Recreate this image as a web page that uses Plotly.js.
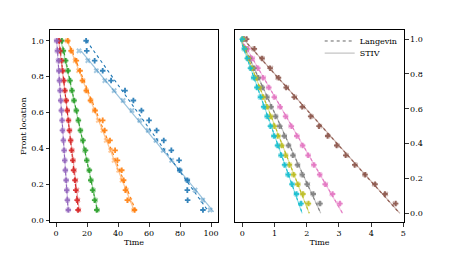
<!DOCTYPE html>
<html>
<head>
<meta charset="utf-8">
<script src="https://cdn.plot.ly/plotly-3.0.1.min.js"></script>
<style>html,body{margin:0;padding:0;background:#fff}#plot{width:449px;height:253px}</style>
</head>
<body>
<div id="plot"></div>
<script>
// Front locations (shared by all series)
const frontLocation = [1.0, 0.944, 0.889, 0.833, 0.778, 0.722, 0.667, 0.611, 0.556, 0.5, 0.444, 0.389, 0.333, 0.278, 0.222, 0.167, 0.111, 0.056];

// Left panel: times (Langevin and STIV)
const blueLangevin   = [19.4, 19.8, 24.9, 30.1, 35.5, 44.5, 49.9, 55.1, 60.0, 64.9, 69.5, 74.4, 79.4, 79.8, 84.7, 84.7, 84.9, 94.8];
const blueSTIV       = [null, 14.8, 20.5, 26.0, 31.5, 37.5, 43.3, 49.0, 54.0, 59.5, 64.5, 69.2, 74.6, 79.8, 84.8, 89.7, 94.6, 99.4];
const orangeLangevin = [7.5, 9.7, 13.1, 15.5, 17.0, 19.5, 22.2, 25.2, 30.1, 31.4, 34.8, 38.1, 39.6, 42.4, 43.6, 44.8, 46.0, 50.6];
const orangeSTIV     = [7.2, 9.9, 12.3, 14.5, 17.4, 19.6, 22.5, 24.7, 27.3, 30.2, 32.4, 35.3, 37.5, 40.4, 42.6, 45.4, 47.5, 50.2];
const greenLangevin  = [3.7, 4.7, 6.2, 7.7, 9.0, 10.3, 11.6, 13.1, 14.4, 15.7, 17.4, 19.0, 19.8, 21.5, 22.4, 23.6, 24.9, 26.3];
const greenSTIV      = [3.2, 4.5, 5.9, 7.4, 8.8, 10.2, 11.5, 12.9, 14.3, 15.8, 17.1, 18.5, 19.9, 21.3, 22.6, 24.0, 25.4, 26.6];
const redLangevin    = [1.9, 2.5, 3.6, 4.2, 5.1, 5.7, 6.6, 7.2, 8.0, 8.6, 9.4, 10.0, 10.8, 11.3, 12.2, 12.7, 13.6, 14.2];
const redSTIV        = [1.6, 2.4, 3.2, 4.1, 4.8, 5.7, 6.4, 7.3, 8.1, 8.8, 9.5, 10.4, 11.1, 11.8, 12.7, 13.4, 14.0, 14.6];
const purpleLangevin = [0.4, 0.9, 1.7, 1.9, 2.2, 2.6, 3.0, 3.4, 3.9, 4.1, 4.7, 5.2, 5.6, 6.0, 6.5, 6.9, 7.3, 7.9];
const purpleSTIV     = [0.2, 0.7, 1.3, 1.7, 2.2, 2.6, 3.1, 3.5, 3.9, 4.4, 4.8, 5.3, 5.7, 6.1, 6.6, 7.0, 7.4, 7.8];

// Right panel: times (Langevin and STIV)
const brownLangevin = [0.13, 0.37, 0.61, 0.86, 1.12, 1.36, 1.61, 1.86, 2.12, 2.38, 2.65, 2.93, 3.21, 3.49, 3.81, 4.12, 4.43, 4.76];
const brownSTIV     = [0.10, 0.35, 0.62, 0.88, 1.10, 1.38, 1.63, 1.88, 2.14, 2.40, 2.66, 2.95, 3.23, 3.51, 3.80, 4.10, 4.45, 4.74];
const pinkLangevin  = [0.05, 0.17, 0.30, 0.48, 0.64, 0.82, 0.99, 1.17, 1.34, 1.52, 1.69, 1.87, 2.04, 2.22, 2.40, 2.57, 2.80, 3.03];
const pinkSTIV      = [0.04, 0.15, 0.32, 0.47, 0.66, 0.81, 1.00, 1.15, 1.35, 1.50, 1.70, 1.86, 2.05, 2.21, 2.41, 2.59, 2.78, 3.01];
const grayLangevin  = [0.04, 0.10, 0.22, 0.36, 0.49, 0.62, 0.76, 0.89, 1.03, 1.16, 1.30, 1.43, 1.57, 1.71, 1.86, 2.01, 2.20, 2.41];
const graySTIV      = [0.03, 0.12, 0.23, 0.35, 0.50, 0.61, 0.77, 0.88, 1.04, 1.15, 1.31, 1.44, 1.58, 1.72, 1.85, 2.03, 2.19, 2.40];
const oliveLangevin = [0.03, 0.08, 0.18, 0.30, 0.41, 0.52, 0.64, 0.76, 0.87, 0.99, 1.10, 1.22, 1.34, 1.46, 1.59, 1.72, 1.88, 2.05];
const oliveSTIV     = [0.02, 0.09, 0.19, 0.29, 0.42, 0.51, 0.65, 0.75, 0.88, 0.98, 1.11, 1.21, 1.35, 1.47, 1.58, 1.73, 1.87, 2.04];
const cyanLangevin  = [0.00, 0.06, 0.15, 0.25, 0.35, 0.45, 0.56, 0.66, 0.77, 0.87, 0.98, 1.09, 1.20, 1.31, 1.42, 1.54, 1.68, 1.82];
const cyanSTIV      = [0.01, 0.05, 0.16, 0.26, 0.34, 0.46, 0.55, 0.67, 0.76, 0.88, 0.97, 1.10, 1.19, 1.32, 1.41, 1.55, 1.67, 1.81];

const leftColors  = ['#1f77b4', '#ff7f0e', '#2ca02c', '#d62728', '#9467bd'];
const rightColors = ['#8c564b', '#e377c2', '#7f7f7f', '#bcbd22', '#17becf'];
const leftLangevin  = [blueLangevin, orangeLangevin, greenLangevin, redLangevin, purpleLangevin];
const leftSTIV      = [blueSTIV, orangeSTIV, greenSTIV, redSTIV, purpleSTIV];
const rightLangevin = [brownLangevin, pinkLangevin, grayLangevin, oliveLangevin, cyanLangevin];
const rightSTIV     = [brownSTIV, pinkSTIV, graySTIV, oliveSTIV, cyanSTIV];
const legendNames = ['Langevin', 'STIV'];

function rgba(hex, a) {
  const n = parseInt(hex.slice(1), 16);
  return `rgba(${(n >> 16) & 255},${(n >> 8) & 255},${n & 255},${a})`;
}

// least-squares fit t = a + b*y, evaluated at yTop and yEnd
function fitLine(t, y, yEnd) {
  const pts = [];
  for (let i = 0; i < t.length; i++) if (t[i] !== null) pts.push([y[i], t[i]]);
  const n = pts.length;
  let sy = 0, st = 0, syy = 0, syt = 0;
  pts.forEach(([yy, tt]) => { sy += yy; st += tt; syy += yy * yy; syt += yy * tt; });
  const b = (n * syt - sy * st) / (n * syy - sy * sy);
  const a = (st - b * sy) / n;
  const yTop = Math.max(...pts.map(p => p[0]));
  return { x: [a + b * yTop, a + b * yEnd], y: [yTop, yEnd] };
}

const traces = [];
function addPanel(langs, stivs, colors, xa, ya, yEnd) {
  for (let i = 0; i < colors.length; i++) {
    const c = colors[i];
    const fs = fitLine(stivs[i], frontLocation, yEnd);
    traces.push({ x: stivs[i], y: frontLocation, xaxis: xa, yaxis: ya, mode: 'markers', type: 'scatter', showlegend: false,
      marker: { symbol: 'x', size: 5, color: rgba(c, 0.4), line: { width: 0 } }, hoverinfo: 'skip' });
    traces.push({ x: fs.x, y: fs.y, xaxis: xa, yaxis: ya, mode: 'lines', type: 'scatter', showlegend: false,
      line: { color: rgba(c, 0.45), width: 1.2 }, hoverinfo: 'skip' });
  }
  for (let i = 0; i < colors.length; i++) {
    const c = colors[i];
    const fl = fitLine(langs[i], frontLocation, yEnd);
    traces.push({ x: langs[i], y: frontLocation, xaxis: xa, yaxis: ya, mode: 'markers', type: 'scatter', showlegend: false,
      marker: { symbol: 'cross', size: 4.6, color: rgba(c, 0.9), line: { width: 0 } }, hoverinfo: 'skip' });
    traces.push({ x: fl.x, y: fl.y, xaxis: xa, yaxis: ya, mode: 'lines', type: 'scatter', showlegend: false,
      line: { color: c, width: 1.1, dash: 'dot' }, hoverinfo: 'skip' });
  }
}
addPanel(leftLangevin, leftSTIV, leftColors, 'x', 'y', 0.045);
addPanel(rightLangevin, rightSTIV, rightColors, 'x2', 'y2', 0.0);

// legend entries (one legend each, to get matplotlib-like spacing)
traces.push({ x: [null], y: [null], xaxis: 'x2', yaxis: 'y2', mode: 'lines', name: legendNames[0], legend: 'legend',
  line: { color: '#666', width: 1, dash: 'dot' } });
traces.push({ x: [null], y: [null], xaxis: 'x2', yaxis: 'y2', mode: 'lines', name: legendNames[1], legend: 'legend2',
  line: { color: '#c4c4c4', width: 1.2 } });

const font = { family: 'DejaVu Serif, serif', size: 8, color: '#000' };
const axBase = {
  showline: true, mirror: true, linecolor: '#000', linewidth: 1,
  ticks: 'outside', ticklen: 3.5, tickwidth: 0.8, tickcolor: '#000',
  showgrid: false, zeroline: false, tickfont: font
};
const legBase = { xanchor: 'left', yanchor: 'middle', bgcolor: 'rgba(255,255,255,0)', font: font, itemwidth: 30 };

const layout = {
  width: 449, height: 253,
  margin: { l: 0, r: 0, t: 0, b: 0 },
  paper_bgcolor: '#fff', plot_bgcolor: '#fff',
  font: font,
  showlegend: true,
  legend: Object.assign({}, legBase, { x: 0.712, y: 0.838 }),
  legend2: Object.assign({}, legBase, { x: 0.712, y: 0.79 }),
  xaxis: Object.assign({}, axBase, { domain: [0.1114, 0.4855], range: [-3.9, 104.5], tickvals: [0, 20, 40, 60, 80, 100],
    title: { text: 'Time', font: font, standoff: 1 }, anchor: 'y' }),
  yaxis: Object.assign({}, axBase, { domain: [0.121, 0.8814], range: [-0.013, 1.06], tickvals: [0, 0.2, 0.4, 0.6, 0.8, 1.0],
    tickformat: '.1f', title: { text: 'Front location', font: font, standoff: 3 }, anchor: 'x' }),
  xaxis2: Object.assign({}, axBase, { domain: [0.5234, 0.8998], range: [-0.23, 5.02], tickvals: [0, 1, 2, 3, 4, 5],
    title: { text: 'Time', font: font, standoff: 1 }, anchor: 'y2' }),
  yaxis2: Object.assign({}, axBase, { domain: [0.121, 0.8814], range: [-0.052, 1.052], tickvals: [0, 0.2, 0.4, 0.6, 0.8, 1.0],
    tickformat: '.1f', side: 'right', anchor: 'x2' })
};

Plotly.newPlot('plot', traces, layout, { staticPlot: true, displayModeBar: false });
</script>
</body>
</html>
